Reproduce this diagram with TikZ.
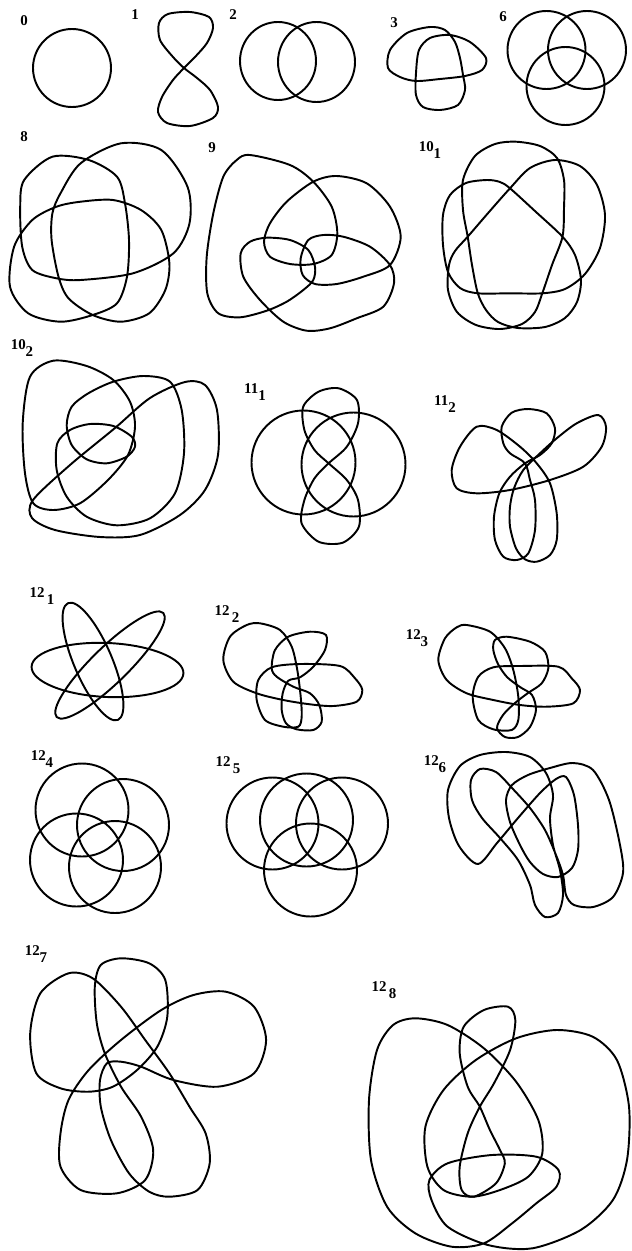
\documentclass[tikz,border=0pt]{standalone}
\usepackage{fontspec}
\setmainfont{Liberation Serif}

\newcommand{\lowidx}[1]{\raisebox{-4pt}{#1}}

\begin{document}
\begin{tikzpicture}[x=0.02cm, y=-0.02cm,
    curve/.style={line width=1.1pt, line join=round},
    lbl/.style={font=\bfseries\fontsize{8.5}{9}\selectfont, inner sep=0pt}
  ]
    \useasboundingbox (0,0) rectangle (632,1251);

    % row 1
    \node[lbl] (l0) at (24,21) {0};
    \draw[curve] (72,68) circle (39);

    \node[lbl] (l1) at (135,15) {1};
    \draw[curve] plot[smooth cycle] coordinates {(184,68) (173,57) (160,40) (159,23) (168,14) (190,12)
      (209,17) (213,28) (207,43) (195,57) (184,68) (173,80) (162,97) (158,112) (167,123)
      (190,126) (213,118) (218,107) (210,90) (197,78)};

    \node[lbl] (l2) at (233,15) {2};
    \draw[curve] (278,61) ellipse (38 and 39);
    \draw[curve] (316.5,62) ellipse (38.5 and 40);

    \node[lbl] (l3) at (394,23) {3};
    \draw[curve] plot[smooth cycle] coordinates {(416,81) (400,77) (388,68) (390,50) (407,33) (430,27)
      (445,30) (455,42) (460,58) (463,75) (465,90) (458,105) (440,110) (423,107) (416,95)
      (416,73) (419,50) (430,38) (450,35) (470,42) (486,58) (482,70) (465,76) (440,79)};

    \node[lbl] (l6) at (503,17) {6};
    \draw[curve] (546.5,50) circle (39);
    \draw[curve] (587,50) circle (39);
    \draw[curve] (565.5,86) circle (39);

    % row 2
    \node[lbl] (l8) at (24,137) {8};
    \draw[curve] plot[smooth cycle] coordinates {(60.5,193.3) (80.6,163.3) (121,143.3) (161.3,150)
      (187.5,186.7) (189.5,223.3) (173.4,253.3) (133,273.3) (80.6,280) (56.5,278.3) (32.3,270)
      (22.2,246.7) (20.2,206.7) (24.2,180) (52.4,156.7) (88.7,160) (117,176.7) (125,203.3)
      (129,240) (127,276.7) (117,303.3) (92.7,315) (60.5,321.7) (28.2,313.3) (10,286.7)
      (14.1,246.7) (32.3,220) (56.5,206.7) (80.6,201.7) (113,200) (141,210) (161.3,230)
      (169.4,263.3) (165.3,290) (149.2,313.3) (121,321.7) (92.7,315) (68.5,298.3) (58.5,276.7)
      (51.6,240) (52.4,213.3)};

    \node[lbl] (l9) at (212,148) {9};
    \draw[curve] plot[smooth cycle] coordinates {(250,155) (290,165) (313.3,181.7) (331.7,206.7)
      (337.3,233.3) (331.7,255) (313.3,264) (290,264) (270,256.7) (264,241.7) (270,223.3)
      (286.7,201.7) (313.3,181.7) (336.7,176) (366.7,183.3) (390,206.7) (400.7,236.7) (390,265)
      (363.3,276.7) (336.7,284) (315,284) (302.7,275) (300.7,258.3) (308.3,240) (323.3,235)
      (343.3,236.7) (370,246.7) (390,265) (394,283.3) (383.3,306.7) (356.7,318.3) (330,328.3)
      (306.7,330.7) (283.3,321.7) (260,300) (243.3,276.7) (240.7,253.3) (250,241.7) (266.7,237.7)
      (290,240) (308.3,250) (315,266.7) (313.3,280) (303.3,290) (286.7,301.7) (266.7,310.7)
      (240,317.3) (218.3,313.3) (207.3,293.3) (206.7,256.7) (213.3,213.3) (223.3,176.7) (236.7,160)};

    \node[lbl] (l101) at (430,150) {10\lowidx{1}};
    \draw[curve] plot[smooth cycle] coordinates {(516,141.7) (540,146) (557,158) (564,180) (564,208)
      (562.5,236.7) (552,265) (542.3,293.3) (535,312) (522,324) (500,329) (476,325) (457,312)
      (448,290) (449,265) (455,251) (467.7,236.7) (489,212) (510,188.3) (530,168) (555,160)
      (580,166) (597,185) (605,215) (600,248) (585,274) (565,289) (542.3,293.3) (510,293.3)
      (477.8,293.3) (460,288) (448,272) (443,245) (443,215) (450,195) (466,183) (487,180)
      (500,182) (510,188.3) (536,212) (562.5,236.7) (575,255) (581,280) (577,302) (565,318)
      (545,327) (518,328) (498,322) (486,310) (477.8,293.3) (472,265) (467.7,236.7) (463,210)
      (463,180) (475,156) (495,144)};

    % row 3
    \node[lbl] (l102) at (22,348) {10\lowidx{2}};
    \draw[curve] plot[smooth cycle] coordinates {(113.3,381.7) (143.3,376) (170,381.7) (181.7,410)
      (184,453.3) (175,493.3) (150,518.3) (116.7,525.3) (86.7,516.7) (66.7,496.7) (56.7,470)
      (57.3,443.3) (70,430) (90,424) (113.3,426) (131.7,436.7) (135,446.7) (126.7,456.7)
      (106.7,463.3) (86.7,459.3) (71.7,445) (66.7,425) (71.7,406.7) (88.3,393.3)};
    \draw[curve] plot[smooth cycle] coordinates {(53.3,360.7) (86.7,366) (113.3,380) (130,401.7)
      (135,426.7) (128,455) (108,480) (80,503.3) (53.3,510) (33.3,503.3) (25,473.3)
      (22.7,423.3) (30,376.7)};
    \draw[curve] plot[smooth cycle] coordinates {(33,500) (70,465) (115,428) (150,398) (185,382)
      (205,385) (217,410) (218,455) (205,490) (180,515) (140,535) (100,537) (55,530) (32,518)};

    \node[lbl] (l111) at (255,392) {11\lowidx{1}};
    \draw[curve] (303.5,462.5) circle (52);
    \draw[curve] (353.5,464.5) circle (52);
    \draw[curve] plot[smooth cycle] coordinates {(328.6,463.3) (314.5,450) (304.4,430) (303.2,406.7)
      (318.5,391.7) (338.7,388.3) (356.9,400) (358,423.3) (346.8,446.7) (328.6,463.3)
      (314.5,478.3) (304.4,500) (301.6,523.3) (318.5,541.7) (342.7,542.7) (358.9,526.7)
      (358,500) (346.8,480)};

    \node[lbl] (l112) at (445,404) {11\lowidx{2}};
    \draw[curve] plot[smooth cycle] coordinates {(476.7,426.7) (496.7,430) (520,446.7) (536.7,463.3)
      (550,483.3) (556.7,513.3) (556.7,540) (550,555) (536.7,561.7) (525,559.3) (516,548.3)
      (510,526.7) (510,506.7) (514,488.3) (523.3,470) (540,453.3) (556.7,438.3) (576.7,423.3)
      (598.3,415) (606,426.7) (601.7,446.7) (583.3,466.7) (550,480) (510,490) (476.7,493.3)
      (456.7,488.3) (451.7,470) (460,446.7)};
    \draw[curve] plot[smooth cycle] coordinates {(503.3,443.3) (501.7,426.7) (511.7,412.7) (528.3,409)
      (546.7,413.3) (555,428.3) (551.7,443.3) (540,455) (525,463.3) (510,476.7) (499.3,493.3)
      (494,516.7) (495,540) (503.3,556.7) (516.7,560) (528.3,553.3) (535,530) (535,500)
      (530,480) (525,463.3) (510,453.3)};

    % row 4
    \node[lbl] (l121) at (42,596) {12\,\lowidx{1}};
    \draw[curve, rotate around={-2.6:(107.5,670)}] (107.5,670) ellipse (76 and 27);
    \draw[curve, rotate around={-66.9:(93,661.5)}] (93,661.5) ellipse (63.5 and 19);
    \draw[curve, rotate around={44.3:(110,665)}] (110,665) ellipse (74.5 and 18);

    \node[lbl] (l122) at (227,614) {12\,\lowidx{2}};
    \draw[curve] plot[smooth cycle] coordinates {(260,623.3) (280,630) (291.7,646.7) (297.3,670)
      (300.7,696.7) (301.7,716.7) (298.3,726.7) (283.3,726.7) (265,720) (256.7,700) (258.3,680)
      (271.7,667.3) (300,664) (340,666) (355,678.3) (362.3,690) (356.7,701.7) (333.3,706)
      (310,704.3) (283.3,700) (256.7,693.3) (233.3,681.7) (223.3,660) (230,636.7) (246.7,625)};
    \draw[curve] plot[smooth cycle] coordinates {(271.7,668.3) (275,650) (288.3,636.7) (310,631.7)
      (326,635) (325,650) (313.3,666.7) (300,677.3) (288.3,680.7) (282.7,693.3) (281.7,710)
      (286,723.3) (296.7,729.3) (313.3,730) (321.7,721.7) (319.3,705) (310,693.3) (293.3,686.7)
      (276.7,676.7)};

    \node[lbl] (l123) at (417,638) {12\lowidx{3}};
    \draw[curve] plot[smooth cycle] coordinates {(466.7,625) (490,631.7) (505,648.3) (513.3,670)
      (518.3,696.7) (518.3,720) (511.7,730) (493.3,729.3) (478.3,720) (472.7,696.7) (478.3,676.7)
      (493.3,667.3) (520,666) (558.3,666.7) (571.7,678.3) (580,690) (573.3,703.3) (546.7,706.7)
      (520,705) (493.3,700) (466.7,693.3) (446.7,680) (438.3,660) (445,638.3) (456.7,627.3)};
    \draw[curve] plot[smooth cycle] coordinates {(493.3,650) (495,640) (506.7,636.7) (530,641.7)
      (545,651.7) (548.3,668.3) (541.7,683.3) (528,693) (515,703) (503,715) (497,728) (505,737)
      (518,737) (530,727) (536,710) (532,695) (520,687) (507,677) (498,664)};

    % row 5
    \node[lbl] (l124) at (42,759) {12\lowidx{4}};
    \draw[curve] (82,810) circle (46.5);
    \draw[curve] (123,825) circle (46);
    \draw[curve] (76.5,860) circle (46.5);
    \draw[curve] (115,867) circle (46);

    \node[lbl] (l125) at (228,765) {12\,\lowidx{5}};
    \draw[curve] (272.5,823.5) circle (46);
    \draw[curve] (306.5,820) circle (46.5);
    \draw[curve] (342,823.5) circle (46);
    \draw[curve] (310.5,870) circle (46.5);

    \node[lbl] (l126) at (435,764) {12\lowidx{6}};
    \draw[curve] plot[smooth cycle, tension=0.5] coordinates {(478,864) (497,843) (518,818) (540,793)
      (556,779) (566,777) (574,795) (578,825) (578,850) (572,868) (558,877) (543,874) (530,862)
      (520,845) (510,822) (506,800) (512,785) (528,775) (550,768) (573,763) (593,770) (609,800)
      (620,845) (623,873) (613,897) (593,907) (574,905) (566,895) (563,875) (556,855) (545,830)
      (530,808) (512,788) (496,772) (480,769) (471,780) (472,800) (482,818) (500,838) (518,860)
      (530,885) (535,905) (545,917) (558,913) (563,895) (560,870) (553,845) (550,818) (553,795)
      (546,773) (530,757) (506,752) (480,755) (460,766) (448,790) (449,818) (459,846)};

    % row 6
    \node[lbl] (l127) at (36,954) {12\lowidx{7}};
    \draw[curve] plot[smooth cycle] coordinates {(68.5,973.3) (40.3,993.3) (30.2,1033.3) (36.3,1073.3)
      (60.5,1088.3) (88.7,1091.7) (112.9,1086.7) (137.1,1070) (157.3,1046.7) (167.3,1016.7)
      (165.3,980) (149.2,963.3) (121,958.3) (100.8,965) (94.8,986.7) (96.8,1023.3) (104.8,1053.3)
      (121,1086.7) (141.1,1116.7) (153.2,1150) (145.2,1180) (116.9,1193.3) (80.6,1190)
      (60.5,1166.7) (60.5,1133.3) (68.5,1100) (88.7,1070) (121,1040) (161.3,1010) (193.5,995)
      (225.8,991.7) (254,1006.7) (266.1,1040) (254,1073.3) (217.7,1086.7) (173.4,1080)
      (141.1,1066.7) (121,1061.7) (106.9,1063.3) (100,1080) (100.8,1106.7) (110.9,1140)
      (129,1173.3) (149.2,1191.7) (169.4,1196.7) (197.6,1190) (209.7,1163.3) (205.6,1133.3)
      (189.5,1106.7) (169.4,1073.3) (145.2,1040) (121,1006.7) (92.7,978.3)};

    \node[lbl] (l128) at (384,990) {12\,\lowidx{8}};
    \draw[curve] plot[smooth cycle] coordinates {(415.3,1018.3) (447.6,1025) (483.9,1048.3)
      (516.1,1081.7) (538.3,1120) (542.3,1153.3) (528.2,1176.7) (500,1190) (471.8,1196.7)
      (443.5,1190) (427.4,1166.7) (425.4,1126.7) (443.5,1090) (475.8,1060) (516.1,1038.3)
      (556.5,1030) (592.7,1036.7) (616.9,1060) (629,1106.7) (627,1160) (612.9,1200) (580.6,1230)
      (532.3,1248.3) (487.9,1245) (447.6,1226.7) (431.5,1200) (429.4,1180) (447.6,1163.3)
      (491.9,1155) (536.3,1156.7) (558.5,1170) (556.5,1186.7) (536.3,1203.3) (512.1,1223.3)
      (483.9,1243.3) (451.6,1246.7) (415.3,1233.3) (387.1,1206.7) (371,1160) (369,1100)
      (377,1050) (393.1,1025)};
    \draw[curve] plot[smooth cycle] coordinates {(479.8,1106.7) (494,1083.3) (510.1,1050) (515.3,1020)
      (508,1006.7) (483.9,1010) (463.7,1026.7) (459.7,1053.3) (467.7,1086.7) (479.8,1106.7)
      (489.9,1130) (500,1150) (504.8,1163.3) (496,1183.3) (473.8,1196.7) (461.7,1190)
      (459.7,1166.7) (467.7,1133.3)};
\end{tikzpicture}
\end{document}
